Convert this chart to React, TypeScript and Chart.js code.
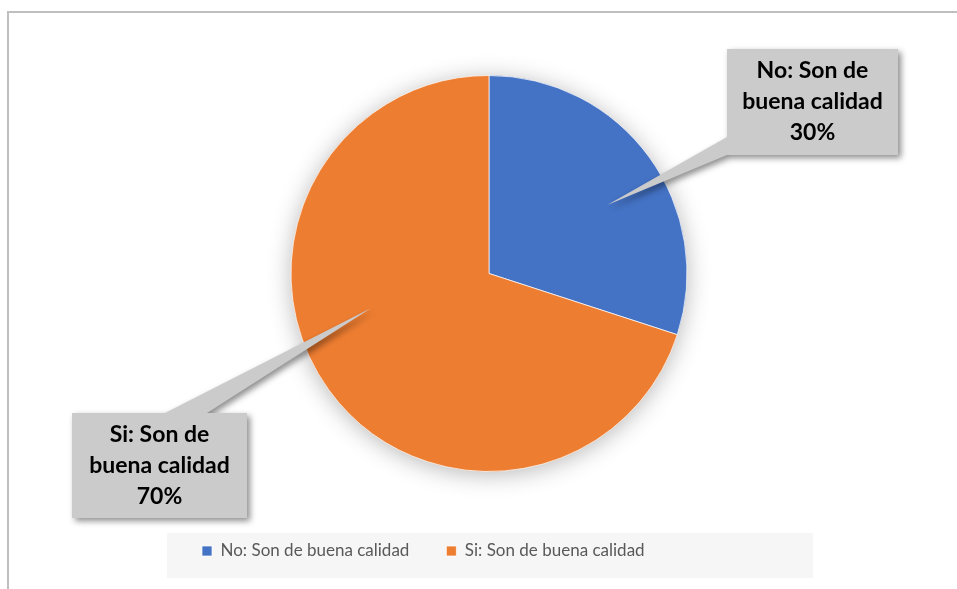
import React, { useEffect, useRef } from 'react';
import { Chart, registerables } from 'chart.js';

Chart.register(...registerables);

const categories = ['No: Son de buena calidad', 'Si: Son de buena calidad'];
const values = [30, 70];
const colors = ['#4472C4', '#ED7D31'];

// callout styling / placement (pixels), tip given as fraction along arc and radius
const calloutBoxes = [
  { x: 727, y: 49, w: 171, h: 106, tipFrac: 0.555, tipR: 0.69, base: [[0, 88], [0, 106]] },
  { x: 72, y: 413, w: 175, h: 105, tipFrac: 0.578, tipR: 0.62, base: [[93, 0], [135, 0]] },
];

const frameAndShadowPlugin = {
  id: 'frameAndShadow',
  beforeDraw(chart: any) {
    const ctx = chart.ctx;
    ctx.save();
    ctx.fillStyle = '#ffffff';
    ctx.fillRect(0, 0, chart.width, chart.height);
    ctx.strokeStyle = '#bfbfbf';
    ctx.lineWidth = 2;
    ctx.beginPath();
    ctx.moveTo(8, chart.height + 2);
    ctx.lineTo(8, 12);
    ctx.lineTo(chart.width + 2, 12);
    ctx.stroke();
    // legend background
    ctx.fillStyle = '#f6f6f6';
    ctx.fillRect(167, 533, 646, 45);
    ctx.restore();
  },
  beforeDatasetsDraw(chart: any) {
    const meta = chart.getDatasetMeta(0);
    const el = meta.data[0];
    if (!el) return;
    const ctx = chart.ctx;
    ctx.save();
    ctx.shadowColor = 'rgba(0,0,0,0.3)';
    ctx.shadowBlur = 24;
    ctx.shadowOffsetX = 0;
    ctx.shadowOffsetY = 3;
    ctx.fillStyle = '#ffffff';
    ctx.beginPath();
    ctx.arc(el.x, el.y, el.outerRadius - 1, 0, Math.PI * 2);
    ctx.fill();
    ctx.restore();
  },
};

function wrapText(ctx: CanvasRenderingContext2D, text: string, maxW: number) {
  const words = text.split(' ');
  const lines: string[] = [];
  let cur = '';
  for (const w of words) {
    const t = cur ? cur + ' ' + w : w;
    if (ctx.measureText(t).width > maxW && cur) {
      lines.push(cur);
      cur = w;
    } else cur = t;
  }
  if (cur) lines.push(cur);
  return lines;
}

const calloutPlugin = {
  id: 'callouts',
  afterDatasetsDraw(chart: any) {
    const ctx = chart.ctx;
    const meta = chart.getDatasetMeta(0);
    const data = chart.data.datasets[0].data as number[];
    const total = data.reduce((a, b) => a + b, 0);
    meta.data.forEach((el: any, i: number) => {
      const cfg = calloutBoxes[i];
      if (!cfg) return;
      const ang = el.startAngle + cfg.tipFrac * (el.endAngle - el.startAngle);
      const tx = el.x + Math.cos(ang) * el.outerRadius * cfg.tipR;
      const ty = el.y + Math.sin(ang) * el.outerRadius * cfg.tipR;
      ctx.save();
      ctx.shadowColor = 'rgba(0,0,0,0.45)';
      ctx.shadowBlur = 6;
      ctx.shadowOffsetX = 3;
      ctx.shadowOffsetY = 3;
      ctx.fillStyle = '#cbcbcb';
      ctx.beginPath();
      ctx.rect(cfg.x, cfg.y, cfg.w, cfg.h);
      ctx.moveTo(cfg.x + cfg.base[0][0], cfg.y + cfg.base[0][1]);
      ctx.lineTo(tx, ty);
      ctx.lineTo(cfg.x + cfg.base[1][0], cfg.y + cfg.base[1][1]);
      ctx.closePath();
      ctx.fill('nonzero');
      ctx.restore();

      ctx.save();
      ctx.font = 'bold 23px Lato, "Noto Sans", sans-serif';
      ctx.fillStyle = '#000000';
      ctx.textAlign = 'center';
      ctx.textBaseline = 'middle';
      const lines = wrapText(ctx, chart.data.labels[i], cfg.w - 10);
      lines.push(Math.round((data[i] / total) * 100) + '%');
      const lh = 31;
      const cy = cfg.y + cfg.h / 2;
      lines.forEach((ln, k) => {
        ctx.fillText(ln, cfg.x + cfg.w / 2, cy + (k - (lines.length - 1) / 2) * lh);
      });
      ctx.restore();
    });
  },
};

const legendPlacePlugin = {
  id: 'legendPlace',
  afterLayout(chart: any) {
    const lg = chart.legend;
    if (!lg) return;
    const pad = lg.options.labels.padding;
    const fs = lg.options.labels.font.size;
    const h = lg.height;
    lg.left = 202 - pad;
    lg.right = chart.width;
    lg.top = 551 - pad - fs / 2;
    lg.bottom = lg.top + h;
  },
};

export default function App() {
  const ref = useRef<HTMLCanvasElement | null>(null);
  useEffect(() => {
    if (!ref.current) return;
    const chart = new Chart(ref.current, {
      type: 'pie',
      data: {
        labels: categories,
        datasets: [
          {
            data: values,
            backgroundColor: colors,
            borderColor: 'rgba(255,255,255,0.7)',
            borderWidth: 1,
          },
        ],
      },
      options: {
        responsive: false,
        animation: false,
        devicePixelRatio: 1,
        layout: { padding: { top: 75, bottom: 53, left: 21, right: 0 } },
        plugins: {
          legend: {
            position: 'bottom',
            align: 'start',
            labels: {
              boxWidth: 10,
              boxHeight: 10,
              padding: 37,
              color: '#595959',
              font: { family: 'Lato, "Noto Sans", sans-serif', size: 17 },
            },
          },
          tooltip: { enabled: false },
        },
      },
      plugins: [frameAndShadowPlugin, calloutPlugin, legendPlacePlugin],
    });
    return () => chart.destroy();
  }, []);
  return (
    <div style={{ position: 'absolute', left: 0, top: 0, width: 957, height: 589 }}>
      <canvas ref={ref} width={957} height={589} style={{ display: 'block' }} />
    </div>
  );
}
